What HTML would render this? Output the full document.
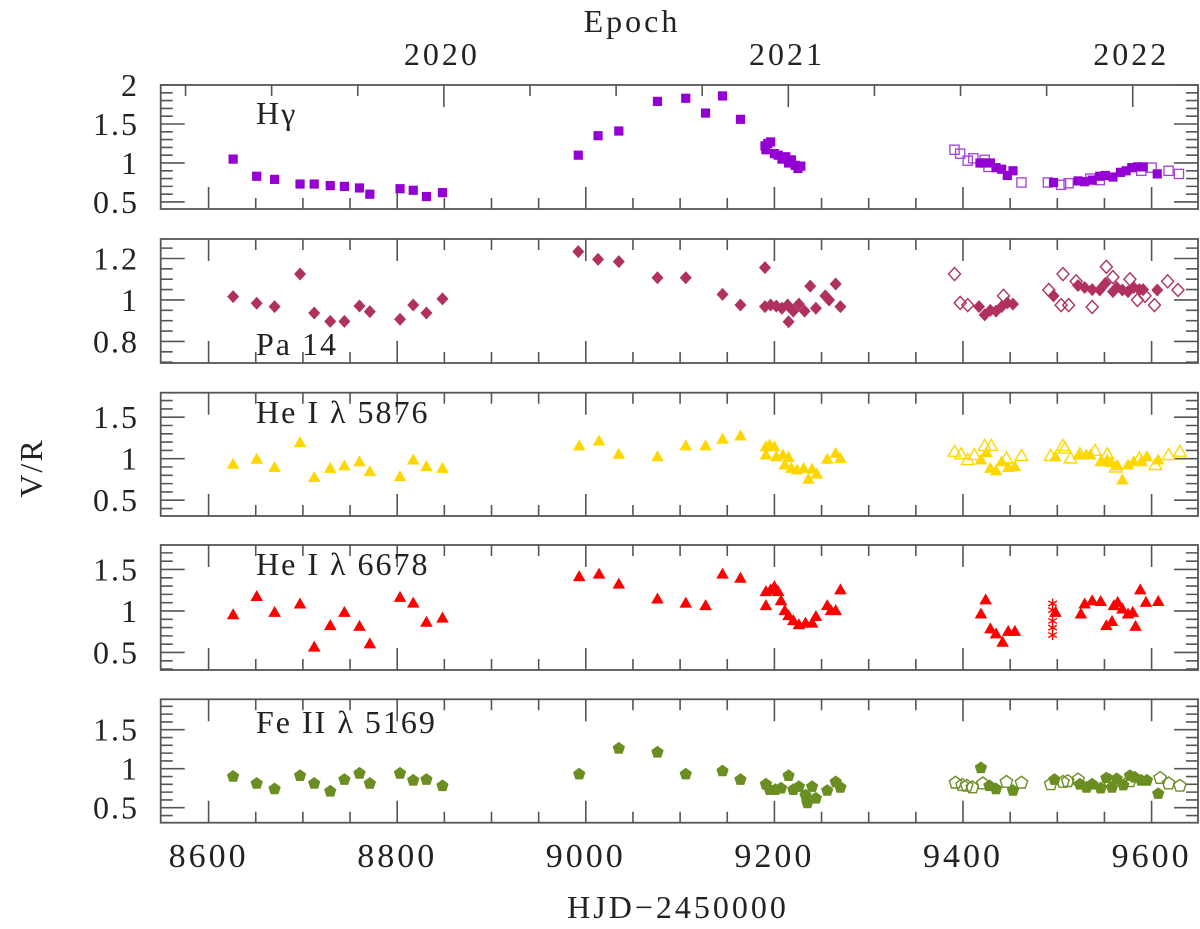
<!DOCTYPE html>
<html><head><meta charset="utf-8"><style>
html,body{margin:0;padding:0;background:#fff;}
svg{display:block;}
text{font-family:"Liberation Serif",serif;fill:#222;}
</style></head><body>
<svg id="chart" width="1200" height="929" viewBox="0 0 1200 929" xmlns="http://www.w3.org/2000/svg"></svg>
<script>
// ---- data ----
const leftDays=[8626,8651,8670,8697,8712,8729,8744,8760,8771,8803,8817,8831,8848];
const hgDays=leftDays.concat([8992,9013,9035,9076,9106,9127,9145,9164,9190,9191,9193,9196,9200,9204,9208,9212,9215,9218,9222,9225,9228,9418,9421,9429,9435,9441,9447,9453,9496,9522,9529,9537,9545,9551,9559,9567,9573,9579,9585,9591,9606]);
const hgVals=[1.05,0.83,0.79,0.73,0.73,0.71,0.70,0.68,0.60,0.67,0.65,0.57,0.62,1.10,1.35,1.41,1.79,1.83,1.64,1.86,1.56,1.22,1.17,1.25,1.27,1.12,1.10,1.05,1.08,1.00,1.04,0.97,0.93,0.96,1.0,1.0,1.0,0.94,0.92,0.84,0.90,0.75,0.77,0.76,0.78,0.83,0.84,0.82,0.88,0.90,0.94,0.95,0.95,0.86];
const hgOpenDays=[9391,9397,9405,9411,9423,9427,9462,9490,9504,9512,9535,9545,9589,9600,9618,9629];
const hgOpenVals=[1.17,1.12,1.03,1.06,1.04,0.95,0.75,0.75,0.72,0.74,0.80,0.78,0.90,0.94,0.90,0.86];
const paDays=leftDays.concat([8992,9013,9035,9076,9106,9145,9164,9190,9190,9196,9202,9208,9214,9215,9220,9226,9232,9238,9244,9254,9258,9265,9270,9417,9423,9429,9435,9441,9447,9453,9496,9522,9529,9537,9545,9551,9559,9563,9569,9575,9581,9587,9591,9606]);
const paVals=[1.016,0.984,0.968,1.125,0.937,0.897,0.897,0.971,0.944,0.907,0.976,0.937,1.005,1.233,1.196,1.185,1.107,1.107,1.027,0.976,1.156,0.968,0.976,0.97,0.96,0.976,0.895,0.946,0.98,0.946,1.067,0.96,1.02,1.0,1.077,0.968,0.968,0.928,0.95,0.946,0.968,0.986,0.98,1.02,1.07,1.06,1.05,1.048,1.08,1.04,1.06,1.048,1.04,1.06,1.05,1.05,1.048];
const paOpenDays=[9391,9397,9405,9443,9491,9506,9504,9512,9520,9537,9552,9559,9577,9585,9593,9603,9617,9628];
const paOpenVals=[1.125,0.986,0.975,1.02,1.048,1.125,0.975,0.975,1.09,0.966,1.16,1.11,1.10,1.0,1.02,0.975,1.09,1.048];
const he5Days=leftDays.concat([8993,9014,9035,9076,9106,9127,9145,9164,9191,9195,9200,9191,9202,9209,9215,9211,9218,9224,9231,9240,9236,9245,9256,9265,9270,9419,9425,9429,9435,9441,9448,9455,9498,9523,9531,9535,9546,9553,9557,9564,9569,9575,9581,9589,9595,9607]);
const he5Vals=[0.94,1.00,0.90,1.20,0.78,0.89,0.92,0.97,0.85,0.79,0.99,0.91,0.89,1.16,1.22,1.06,1.03,1.16,1.16,1.24,1.28,1.15,1.17,1.15,1.05,1.03,1.05,1.02,0.93,0.89,0.87,0.89,0.88,0.76,0.82,1.0,1.07,1.01,0.99,1.08,0.89,0.86,0.97,0.90,0.91,1.03,1.05,1.05,1.05,0.97,0.99,0.96,0.92,0.75,0.93,0.97,0.97,1.03,0.99];
const he5OpenDays=[9391,9398,9405,9412,9423,9430,9446,9462,9493,9506,9508,9514,9524,9540,9553,9562,9587,9604,9618,9630];
const he5OpenVals=[1.09,1.06,0.99,1.05,1.16,1.16,1.01,1.04,1.04,1.16,1.13,1.01,1.06,1.1,1.06,0.9,1.01,0.93,1.05,1.09];
const he6Days=leftDays.concat([8993,9014,9035,9076,9106,9127,9145,9164,9191,9196,9200,9204,9191,9207,9211,9215,9220,9226,9233,9240,9244,9256,9260,9265,9270,9419,9424,9429,9435,9442,9448,9455,9498,9525,9529,9537,9546,9552,9558,9560,9564,9569,9575,9580,9583,9588,9594,9607]);
const he6Vals=[0.96,1.18,0.99,1.09,0.57,0.83,0.99,0.82,0.61,1.17,1.10,0.87,0.92,1.42,1.45,1.33,1.15,1.10,1.07,1.45,1.40,1.24,1.26,1.30,1.24,1.07,1.13,1.01,0.95,0.89,0.84,0.86,0.86,0.94,1.07,1.01,1.01,1.26,0.97,1.14,0.79,0.73,0.63,0.76,0.76,0.99,0.97,1.09,1.13,1.12,0.83,0.88,1.07,1.11,1.03,0.97,0.99,0.82,1.26,1.11,1.12];
const he6StarDays=[9495,9495,9495,9495,9495];
const he6StarVals=[1.09,1.01,0.88,0.80,0.71];
const feDays=leftDays.concat([8993,9035,9076,9106,9145,9164,9191,9195,9201,9207,9215,9220,9226,9233,9235,9240,9244,9256,9265,9270,9419,9428,9435,9453,9497,9524,9531,9537,9546,9552,9558,9563,9570,9577,9582,9589,9595,9607]);
const feVals=[0.90,0.81,0.74,0.91,0.81,0.71,0.86,0.94,0.81,0.94,0.85,0.86,0.78,0.93,1.26,1.21,0.93,0.97,0.86,0.80,0.73,0.73,0.75,0.91,0.73,0.77,0.66,0.56,0.77,0.62,0.72,0.83,0.76,1.01,0.78,0.74,0.72,0.86,0.80,0.76,0.80,0.75,0.88,0.76,0.87,0.79,0.91,0.89,0.85,0.85,0.68];
const feOpenDays=[9392,9399,9404,9410,9421,9446,9462,9493,9506,9511,9522,9555,9577,9609,9618,9630];
const feOpenVals=[0.82,0.79,0.78,0.76,0.81,0.83,0.82,0.80,0.83,0.84,0.86,0.85,0.84,0.88,0.81,0.78];
const xTickLabels=["8600","8800","9000","9200","9400","9600"];
const epochLabels=["2020","2021","2022"];

// ---- layout ----
const NS="http://www.w3.org/2000/svg";
const svg=document.getElementById('chart');
const X0=160.7,X1=1198;
function xs(d){return 208.6+(d-8600)*0.943;}
function mk(tag,attrs,parent){const e=document.createElementNS(NS,tag);for(const k in attrs)e.setAttribute(k,attrs[k]);(parent||svg).appendChild(e);return e;}
const panels=[
 {name:'hgamma',top:85,bot:209,ymin:0.41,ymax:2.0,major:[0.5,1,1.5,2],labels:['0.5','1','1.5','2'],minor:0.1,label:'Hγ',lx:256,ly:124},
 {name:'pa14',top:239,bot:363,ymin:0.696,ymax:1.294,major:[0.8,1,1.2],labels:['0.8','1','1.2'],minor:0.05,label:'Pa 14',lx:256,ly:355},
 {name:'he5876',top:392.7,bot:516,ymin:0.31,ymax:1.795,major:[0.5,1,1.5],labels:['0.5','1','1.5'],minor:0.1,label:'He I λ 5876',lx:256,ly:423},
 {name:'he6678',top:545,bot:670,ymin:0.289,ymax:1.795,major:[0.5,1,1.5],labels:['0.5','1','1.5'],minor:0.1,label:'He I λ 6678',lx:256,ly:575},
 {name:'fe5169',top:699.3,bot:822.7,ymin:0.308,ymax:1.89,major:[0.5,1,1.5],labels:['0.5','1','1.5'],minor:0.1,label:'Fe II λ 5169',lx:256,ly:733}
];
panels.forEach(p=>{p.y=v=>p.bot-(v-p.ymin)/(p.ymax-p.ymin)*(p.bot-p.top);});

const stroke='#555';
panels.forEach((p,i)=>{
  const g=mk('g',{});
  
  
  const fr=mk('rect',{x:X0,y:p.top,width:X1-X0,height:p.bot-p.top,fill:'none',stroke:stroke,'stroke-width':1.8},g);
  
  
  // y ticks
  let path='';
  for(let v=Math.ceil(p.ymin/p.minor-1e-6)*p.minor; v<=p.ymax+1e-6; v+=p.minor){
    const yy=p.y(v);
    const isMaj=p.major.some(m=>Math.abs(m-v)<1e-6);
    const L=isMaj?24:12;
    path+=`M${X0},${yy}h${L}M${X1},${yy}h${-L}`;
  }
  // x ticks bottom (and top except panel 1)
  for(let d=8550; d<=9650; d+=50){
    const xx=xs(d); if(xx<X0+1||xx>X1-1) continue;
    const L=(d%200===0)?22:11;
    path+=`M${xx},${p.bot}v${-L}`;
    if(i>0) path+=`M${xx},${p.top}v${L}`;
  }
  if(i===0){
    for(let k=-4;k<=12;k++){
      const d=8849.5+k*91.3125; const xx=xs(d);
      if(xx<X0+1||xx>X1-1) continue;
      const L=(k%4===0)?22:11;
      path+=`M${xx},${p.top}v${L}`;
    }
  }
  const tp=mk('path',{d:path,stroke:stroke,'stroke-width':1.6,fill:'none'},g);
  
  
  p.major.forEach((m,j)=>{
    const t=mk('text',{x:139,y:p.y(m)+11,'text-anchor':'end','font-size':32,'letter-spacing':2},g);
    t.textContent=p.labels[j];
    
    
  });
  const lt=mk('text',{x:p.lx,y:p.ly,'font-size':32,'letter-spacing':2},g);
  lt.textContent=p.label;
  
  
});

// x labels
xTickLabels.forEach(s=>{
  const t=mk('text',{x:xs(+s),y:867,'text-anchor':'middle','font-size':34,'letter-spacing':3});
  t.textContent=s;
  
  
});
const yrDays=[8849.5,9215.5,9580.5];
epochLabels.forEach((s,i)=>{
  const t=mk('text',{x:xs(yrDays[i])-2,y:65,'text-anchor':'middle','font-size':32,'letter-spacing':3});
  t.textContent=s;
  
  
});
let t=mk('text',{x:632,y:32,'text-anchor':'middle','font-size':32,'letter-spacing':3});
t.textContent='Epoch';


t=mk('text',{x:678,y:918,'text-anchor':'middle','font-size':32,'letter-spacing':3});
t.textContent='HJD−2450000';


t=mk('text',{x:0,y:0,'text-anchor':'middle','font-size':32,'letter-spacing':2,transform:'translate(42,468) rotate(-90)'});
t.textContent='V/R';



// markers
function marker(kind,cx,cy,color,filled){
  let e;
  const f=filled?color:'none', sw=filled?0:1.4;
  if(kind==='square'){e=mk('rect',{x:cx-4.6,y:cy-4.6,width:9.2,height:9.2,fill:f,stroke:color,'stroke-width':filled?0:1.3});}
  else if(kind==='diamond'){e=mk('path',{d:`M${cx},${cy-6.5}L${cx+6},${cy}L${cx},${cy+6.5}L${cx-6},${cy}Z`,fill:f,stroke:color,'stroke-width':sw});}
  else if(kind==='tri'){e=mk('path',{d:`M${cx},${cy-6}L${cx+6.3},${cy+5}L${cx-6.3},${cy+5}Z`,fill:f,stroke:color,'stroke-width':sw});}
  else if(kind==='pent'){let d='';for(let k=0;k<5;k++){const a=-Math.PI/2+k*2*Math.PI/5;d+=(k?'L':'M')+(cx+6.5*Math.cos(a)).toFixed(1)+','+(cy+6.5*Math.sin(a)).toFixed(1);}e=mk('path',{d:d+'Z',fill:f,stroke:color,'stroke-width':sw});}
  else if(kind==='star'){let d='';for(let k=0;k<3;k++){const a=k*Math.PI/3+Math.PI/2;const dx=5*Math.cos(a),dy=5*Math.sin(a);d+=`M${cx-dx},${cy-dy}L${cx+dx},${cy+dy}`;}e=mk('path',{d:d,stroke:color,'stroke-width':1.4,fill:'none'});}
  return e;
}
function series(p,days,vals,kind,color,filled,name){
  days.forEach((d,i)=>{
    const e=marker(kind,xs(d),p.y(vals[i]),color,filled);
    
    
  });
}
series(panels[0],hgOpenDays,hgOpenVals,'square','#a43fd9',false,'hgamma-open-point');
series(panels[0],hgDays,hgVals,'square','#9400d3',true,'hgamma-point');
series(panels[1],paOpenDays,paOpenVals,'diamond','#b03060',false,'pa14-open-point');
series(panels[1],paDays,paVals,'diamond','#b03060',true,'pa14-point');
series(panels[2],he5OpenDays,he5OpenVals,'tri','#ffd700',false,'he5876-open-point');
series(panels[2],he5Days,he5Vals,'tri','#ffd700',true,'he5876-point');
series(panels[3],he6Days,he6Vals,'tri','#ff0000',true,'he6678-point');
series(panels[3],he6StarDays,he6StarVals,'star','#ff0000',false,'he6678-star-point');
series(panels[4],feOpenDays,feOpenVals,'pent','#6b8e23',false,'fe5169-open-point');
series(panels[4],feDays,feVals,'pent','#6b8e23',true,'fe5169-point');
</script>
</body></html>
